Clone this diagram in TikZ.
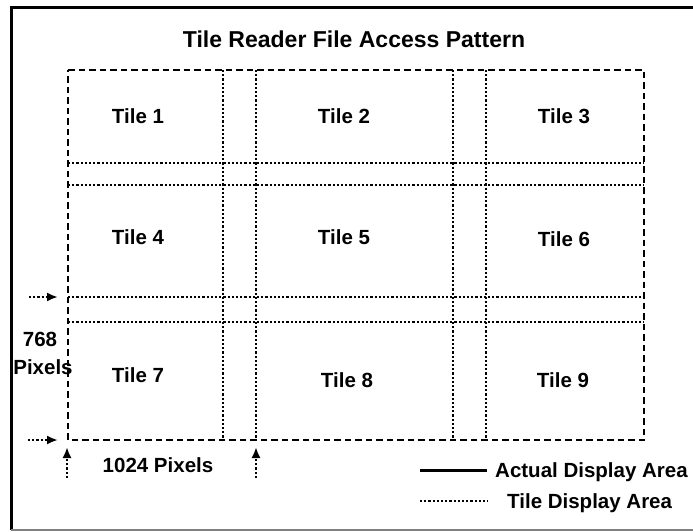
\documentclass[tikz,border=0pt]{standalone}
\usepackage{fontspec}
\setmainfont{Liberation Sans}
\usetikzlibrary{arrows.meta,positioning}

\begin{document}
\begin{tikzpicture}[x=1pt, y=-1pt,
  every node/.style={font=\fontsize{20.5}{24}\selectfont\bfseries, inner sep=0pt},
  tiledots/.style={line width=2.3pt, dash pattern=on 2.2pt off 2pt},
  areadash/.style={line width=2.7pt, dash pattern=on 6.5pt off 4pt},
  ptr/.style={line width=2.3pt, dash pattern=on 2.2pt off 2pt, -{Latex[length=11pt,width=9pt]}, shorten >=10pt}]

\useasboundingbox (0,0) rectangle (693,531);

% frame
\draw [line width=3pt] (700,7) -- (11,7) -- (11,530);
\draw [gray, line width=1.5pt] (11,530) -- (700,530);

\node [anchor=base, font=\fontsize{23}{27}\selectfont\bfseries] (title) at (354,47) {Tile Reader File Access Pattern};

% corners of the display area
\coordinate (nw) at (68,70);
\coordinate (ne) at (644,70);
\coordinate (sw) at (68,440);
\coordinate (se) at (644,440);

% tile display area
\begin{scope}[tiledots]
\draw (223,70) -- (223,440);
\draw (256,70) -- (256,440) coordinate (c2b);
\draw (453,70) -- (453,440);
\draw (486,70) -- (486,440);
\draw (68,163) -- (644,163);
\draw (68,185) -- (644,185);
\draw (68,297) coordinate (r3a) -- (644,297);
\draw (68,322) -- (644,322);
\end{scope}

% actual display area
\draw [areadash] (nw) -- (ne) -- (se) -- (sw) -- cycle;

\node [anchor=base] (t1) at (138,123) {Tile 1};
\node [anchor=base] (t2) at (344,123) {Tile 2};
\node [anchor=base] (t3) at (564,123) {Tile 3};
\node [anchor=base] (t4) at (138,244) {Tile 4};
\node [anchor=base] (t5) at (344,244) {Tile 5};
\node [anchor=base] (t6) at (564,246) {Tile 6};
\node [anchor=base] (t7) at (138,382) {Tile 7};
\node [anchor=base] (t8) at (347,387) {Tile 8};
\node [anchor=base] (t9) at (563,387) {Tile 9};

% size marks
\coordinate (a1) at (29,297);
\coordinate (a2) at (28,440);
\coordinate (a3) at (67,478);
\coordinate (a4) at (256,478);
\draw [ptr] (a1) -- (r3a);
\draw [ptr] (a2) -- (sw);
\draw [ptr, shorten >=7pt] (a3) -- (67,440);
\draw [ptr, shorten >=7pt] (a4) -- (c2b);

\node [anchor=base] (h768) at (40,346) {768};
\node [anchor=base] (hpix) at (43,374) {Pixels};
\node [anchor=base] (wpix) at (158,472) {1024 Pixels};

% legend
\coordinate (l1a) at (420,470);
\coordinate (l1b) at (487,470);
\coordinate (l2a) at (420,501);
\coordinate (l2b) at (488,501);
\draw [line width=3pt] (l1a) -- (l1b);
\draw [tiledots] (l2a) -- (l2b);
\node [anchor=base west] (actual) at (495,477) {Actual Display Area};
\node [anchor=base west] (tiled) at (507,508) {Tile Display Area};

\end{tikzpicture}
\end{document}
